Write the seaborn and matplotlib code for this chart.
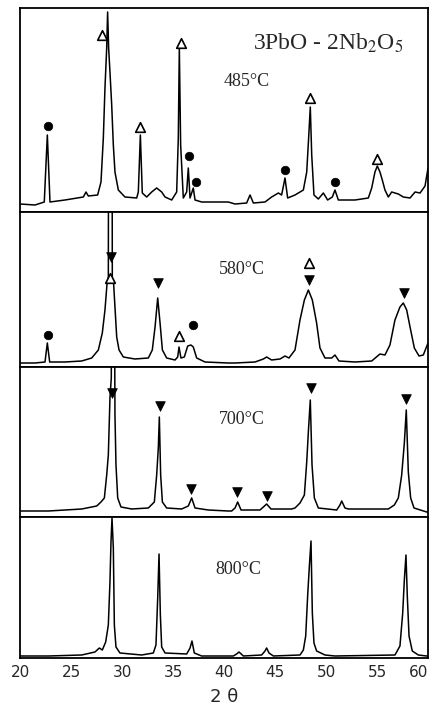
import matplotlib
matplotlib.use("Agg")
import matplotlib.pyplot as plt
import seaborn as sns
import pandas as pd

# ---------------- data (2-theta, intensity in arbitrary units) ----------------
tt_485 = [20.0, 21.47, 22.38, 22.68, 22.94, 24.41, 26.21, 26.47, 26.70, 27.61, 27.94, 28.17,
          28.33, 28.50, 28.59, 28.69, 28.82, 28.99, 29.15, 29.31, 29.64, 30.29, 31.44, 31.60,
          31.80, 31.99, 32.42, 32.91, 33.40, 33.89, 34.22, 34.87, 35.36, 35.52, 35.62, 35.75,
          36.01, 36.34, 36.50, 36.67, 36.83, 36.99, 37.16, 37.81, 39.12, 40.42, 41.08, 42.22,
          42.55, 42.88, 44.02, 44.67, 45.33, 45.65, 45.98, 46.24, 46.96, 47.78, 48.11, 48.33,
          48.46, 48.60, 48.82, 49.25, 49.74, 50.16, 50.62, 50.88, 51.21, 52.84, 54.15, 54.48,
          54.80, 55.03, 55.29, 55.52, 55.78, 56.11, 56.44, 57.09, 57.58, 58.24, 58.73, 59.22,
          59.71, 60.0]
int_485 = [8, 7, 10, 77, 10, 12, 15, 20, 16, 17, 30, 74,
           124, 164, 200, 164, 140, 107, 67, 40, 22, 15, 14, 20,
           77, 19, 15, 20, 24, 20, 15, 12, 20, 74, 164, 67,
           14, 20, 44, 14, 19, 24, 12, 10, 10, 10, 8, 9,
           17, 9, 10, 15, 19, 17, 34, 14, 17, 22, 40, 80,
           105, 57, 17, 13, 19, 12, 15, 22, 12, 12, 14, 24,
           40, 46, 40, 32, 22, 15, 20, 18, 15, 14, 20, 19,
           26, 44]

tt_580 = [20.0, 21.47, 22.45, 22.68, 22.91, 24.41, 26.05, 27.03, 27.68, 28.07, 28.33, 28.53,
          28.66, 28.68, 29.03, 29.05, 29.18, 29.31, 29.48, 29.71, 30.13, 31.27, 32.58, 32.97,
          33.24, 33.50, 33.73, 33.96, 34.38, 35.20, 35.46, 35.59, 35.78, 36.11, 36.44, 36.76,
          36.99, 37.32, 38.14, 40.42, 41.08, 43.04, 43.86, 44.18, 44.67, 45.49, 45.98, 46.37,
          46.96, 47.45, 47.88, 48.27, 48.66, 49.08, 49.41, 49.90, 50.56, 50.88, 51.27, 52.84,
          54.48, 55.29, 55.78, 56.27, 56.76, 57.25, 57.58, 57.91, 58.24, 58.66, 59.12, 59.54,
          60.0]
int_580 = [4, 4, 5, 24, 5, 5, 6, 9, 17, 34, 57, 83,
           84, 250, 250, 84, 83, 60, 30, 17, 10, 8, 9, 17,
           40, 69, 44, 17, 9, 7, 10, 20, 9, 10, 21, 22,
           20, 9, 5, 4, 4, 5, 8, 10, 7, 8, 11, 9,
           17, 47, 67, 77, 67, 44, 19, 9, 9, 12, 6, 5,
           6, 13, 12, 22, 47, 60, 64, 57, 40, 19, 11, 12,
           24]

tt_700 = [20.0, 22.78, 26.05, 27.52, 27.94, 28.27, 28.50, 28.66, 28.82, 28.95, 28.98, 29.25,
          29.31, 29.41, 29.58, 29.90, 30.95, 32.58, 33.17, 33.40, 33.56, 33.66, 33.79, 33.96,
          34.38, 35.85, 36.50, 36.83, 37.16, 38.46, 40.42, 40.75, 41.08, 41.34, 41.67, 43.53,
          43.86, 44.18, 44.61, 46.63, 46.96, 47.45, 47.88, 48.11, 48.27, 48.46, 48.63, 48.86,
          49.25, 51.05, 51.37, 51.54, 51.86, 52.19, 56.11, 56.70, 57.09, 57.42, 57.68, 57.87,
          58.07, 58.30, 58.63, 59.87, 60.0]
int_700 = [6, 6, 8, 11, 15, 19, 42, 62, 119, 139, 250, 250,
           102, 52, 19, 10, 8, 9, 15, 42, 69, 100, 42, 15,
           9, 8, 11, 19, 9, 7, 6, 6, 9, 15, 7, 7,
           10, 13, 8, 8, 9, 14, 22, 55, 85, 117, 52, 19,
           9, 7, 12, 16, 9, 8, 8, 12, 19, 42, 74, 107,
           45, 19, 9, 5, 5]

tt_800 = [20.0, 22.78, 26.05, 27.35, 27.78, 28.07, 28.40, 28.66, 28.82, 28.92, 29.02, 29.15,
          29.25, 29.41, 29.80, 31.93, 33.07, 33.33, 33.50, 33.63, 33.76, 33.89, 34.22, 36.34,
          36.67, 36.86, 37.09, 37.81, 40.42, 40.91, 41.24, 41.47, 41.90, 43.69, 44.02, 44.18,
          44.41, 44.84, 47.45, 47.78, 48.01, 48.20, 48.37, 48.53, 48.66, 48.82, 49.08, 49.90,
          50.88, 56.76, 57.25, 57.52, 57.68, 57.84, 57.97, 58.14, 58.46, 59.05, 59.87, 60.0]
int_800 = [2, 2, 3, 6, 10, 8, 16, 33, 76, 116, 140, 110,
           33, 11, 5, 3, 5, 13, 60, 104, 43, 11, 5, 4,
           10, 17, 5, 2, 2, 2, 4, 6, 2, 3, 7, 10,
           5, 2, 3, 8, 22, 62, 92, 117, 45, 15, 7, 3,
           2, 3, 12, 45, 78, 103, 62, 22, 7, 3, 2, 2]

# phase markers: kind ('o' filled circle, '^' open triangle, 'v' filled triangle)
mk_485_kind = ['o', '^', '^', '^', 'o', 'o', 'o', '^', 'o', '^']
mk_485_tt = [22.7, 28.0, 31.8, 35.8, 36.6, 37.3, 46.0, 48.4, 50.9, 55.0]
mk_485_int = [86, 177, 85, 169, 56, 30, 42, 114, 30, 53]

mk_580_kind = ['o', 'v', '^', 'v', '^', 'o', '^', 'v', 'v']
mk_580_tt = [22.7, 28.9, 28.8, 33.5, 35.6, 37.0, 48.3, 48.3, 57.6]
mk_580_int = [32, 110, 89, 84, 31, 42, 104, 87, 74]

mk_700_kind = ['v', 'v', 'v', 'v', 'v', 'v', 'v']
mk_700_tt = [29.0, 33.7, 36.8, 41.3, 44.2, 48.5, 57.8]
mk_700_int = [124, 111, 28, 25, 21, 129, 118]

temps = ['485°C', '580°C', '700°C', '800°C']
x_ticks = [20, 25, 30, 35, 40, 45, 50, 55, 60]
x_ticklabels = ['20', '25', '30', '35', '40', '45', '50', '55', '60']

# ---------------- figure ----------------
sns.set_style("white")
plt.rcParams['font.family'] = ['Liberation Serif', 'DejaVu Serif']
plt.rcParams['mathtext.fontset'] = 'stix'

fig = plt.figure(figsize=(4.34, 7.09), dpi=100)
left, width = 20 / 434, 408 / 434
panel_px = [(8, 212), (212, 367), (367, 517), (517, 658)]
axes = []
for top, bot in panel_px:
    ax = fig.add_axes([left, (709 - bot) / 709, width, (bot - top) / 709])
    axes.append(ax)

curves = [(tt_485, int_485), (tt_580, int_580), (tt_700, int_700), (tt_800, int_800)]
markers = [(mk_485_kind, mk_485_tt, mk_485_int),
           (mk_580_kind, mk_580_tt, mk_580_int),
           (mk_700_kind, mk_700_tt, mk_700_int),
           None]
label_pos = [(42.25, 130), (41.8, 98), (41.7, 97), (41.4, 88)]

style = {'o': dict(marker='o', s=38, color='black', edgecolor='black'),
         '^': dict(marker='^', s=48, facecolor='white', edgecolor='black', linewidth=1.2),
         'v': dict(marker='v', s=48, color='black', edgecolor='black')}

for i, ax in enumerate(axes):
    tt, iv = curves[i]
    df = pd.DataFrame({'two_theta': tt, 'intensity': iv})
    sns.lineplot(data=df, x='two_theta', y='intensity', ax=ax, color='black',
                 linewidth=1.1, sort=False, estimator=None)
    top, bot = panel_px[i]
    ax.set_xlim(20, 60)
    ax.set_ylim(0, bot - top)
    if markers[i] is not None:
        kinds, mt, mi = markers[i]
        mdf = pd.DataFrame({'two_theta': mt, 'intensity': mi, 'kind': kinds})
        for k in ['o', '^', 'v']:
            sub = mdf[mdf['kind'] == k]
            if len(sub):
                sns.scatterplot(data=sub, x='two_theta', y='intensity', ax=ax,
                                zorder=5, clip_on=False, **style[k])
    lx, ly = label_pos[i]
    ax.text(lx, ly, temps[i], ha='center', va='center', fontsize=13,
            family=['Liberation Serif', 'DejaVu Serif'])
    ax.set_yticks([])
    ax.set_xlabel('')
    ax.set_ylabel('')
    for sp in ax.spines.values():
        sp.set_linewidth(1.3)
        sp.set_color('black')
    if i < 3:
        ax.set_xticks([])
    else:
        ax.set_xticks(x_ticks)
        labels = ax.set_xticklabels(x_ticklabels, fontsize=11,
                                    family=['Liberation Sans Narrow', 'DejaVu Sans'])
        labels[-1].set_horizontalalignment('right')
        labels[-1].set_x(60)
        ax.tick_params(axis='x', length=0, pad=5)
        ax.set_xlabel('2 θ', fontsize=13, family=['DejaVu Sans'], labelpad=6)

axes[0].text(50.2, 169, '3PbO - 2Nb$_2$O$_5$', ha='center', va='center', fontsize=17,
             family=['Liberation Serif', 'DejaVu Serif'])

fig.savefig('out.png', dpi=100)
